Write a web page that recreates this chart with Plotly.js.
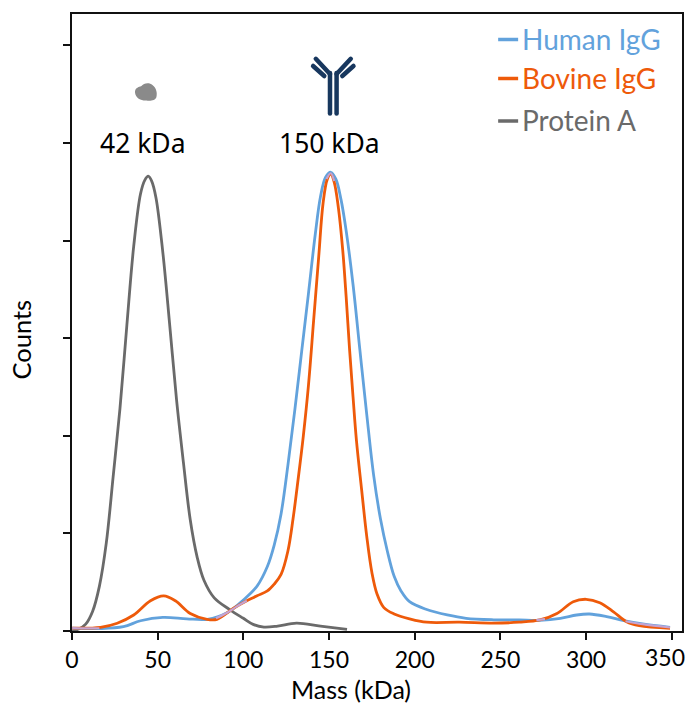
<!DOCTYPE html>
<html><head><meta charset="utf-8">
<script src="https://cdn.plot.ly/plotly-3.0.1.min.js"></script>
<style>html,body{margin:0;padding:0;background:#fff}</style></head>
<body><div id="chart" style="width:687px;height:704px"></div>
<script>
const seriesNames=["Human IgG","Bovine IgG","Protein A"];
const seriesColors=["#62a2dc","#ee5a0a","#6a6a6a"];
const humanX=[0.1,16,30,40,53,67,79,90.5,100,108,114,118,122,126,130,134,138,142,145,148,151,154,157,160,164,168,172,176,180,184,188,192,197,207,219,230,246,261,273,285,294.5,302,312,322,333,349];
const humanY=[0.03,0.025,0.044,0.105,0.14,0.125,0.12,0.187,0.318,0.46,0.66,0.88,1.2,1.7,2.26,2.86,3.46,4.07,4.45,4.65,4.7,4.63,4.42,4.1,3.55,2.88,2.22,1.6,1.15,0.82,0.56,0.41,0.3,0.22,0.164,0.13,0.115,0.113,0.11,0.13,0.164,0.174,0.147,0.106,0.072,0.038];
const bovineX=[0.1,16.6,26.4,36,45.8,53.5,60.3,69,78.8,84.6,94.3,102,108,114,118,122,126,129,132,135,138,141,144,146.5,149,151,153,155.5,158,160,162,164,166,169,172,175,178,182,188,197,207,226,246,261,273,283,292.5,300,308,316,323.6,331,349];
const bovineY=[0.03,0.038,0.08,0.164,0.31,0.36,0.31,0.18,0.12,0.12,0.233,0.31,0.36,0.41,0.48,0.58,0.82,1.15,1.56,2,2.52,3.18,3.84,4.38,4.63,4.68,4.6,4.33,3.9,3.42,2.88,2.4,1.95,1.45,0.97,0.6,0.38,0.24,0.175,0.125,0.09,0.09,0.08,0.09,0.113,0.18,0.3,0.325,0.29,0.197,0.095,0.054,0.027];
const proteinX=[0,4,8,12,16,20,24,28,32,36,40,42.5,44.5,46.5,49,53,57,61,65,69,73,77,83,92,100,106,112,120,131,145,160.5];
const proteinY=[0,0.02,0.07,0.2,0.46,0.9,1.58,2.28,3.13,3.94,4.48,4.62,4.66,4.61,4.44,3.88,3.14,2.37,1.73,1.14,0.76,0.52,0.34,0.22,0.13,0.065,0.04,0.05,0.08,0.05,0.017];
const overlapX=[0.1,8,16,null,84,90.5,96,102,null,148.5,151,153,null,271,276,null,323,333,349];
const overlapY=[0.03,0.028,0.028,null,0.13,0.187,0.25,0.31,null,4.63,4.69,4.61,null,0.112,0.122,null,0.1,0.07,0.036];
const xTicks=[0,50,100,150,200,250,300,350];
const xTickText=["0","50","100","150","200","250","300",""];
const yTicks=[0,1,2,3,4,5,6];
const W=687,H=704,L=71.5,R=682,T=14,B=631;
const fx=p=>(p-L)/(R-L), fy=p=>(B-p)/(B-T);
const line=(x,y,c,w)=>({type:'scatter',mode:'lines',x,y,showlegend:false,hoverinfo:'skip',connectgaps:false,line:{color:c,width:w||2.8,shape:'spline',smoothing:1}});
const traces=[line(proteinX,proteinY,seriesColors[2]),line(humanX,humanY,seriesColors[0]),line(bovineX,bovineY,seriesColors[1]),line(overlapX,overlapY,"#c4a3d2",2.2)];
const T1="Lato, sans-serif", T2="'Noto Sans', sans-serif";
const note=(text,px,py,size,color,font,anchor,angle)=>({text,xref:'paper',yref:'paper',x:fx(px),y:fy(py),xanchor:anchor||'center',yanchor:'middle',showarrow:false,textangle:angle||0,font:{family:font,size,color}});
const seg=(x0,y0,x1,y1,color,width)=>({type:'line',xref:'paper',yref:'paper',x0:fx(x0),y0:fy(y0),x1:fx(x1),y1:fy(y1),line:{color,width}});
const navy="#17375e";
const annotations=[
 note("42 kDa",143,143,26.5,"#000",T2),
 note("150 kDa",329,143,26.5,"#000",T2),
 note("Mass (kDa)",351,689,25,"#000",T1),
 note("Counts",20,340,25.5,"#000",T1,'center',-90),
 note("350",665,657,23,"#000",T1),
 note(seriesNames[0],520,39,28,seriesColors[0],T1,'left'),
 note(seriesNames[1],520,77.5,28,seriesColors[1],T1,'left'),
 note(seriesNames[2],520,119.5,28,seriesColors[2],T1,'left')
];
const blobPts="M134.5,92 C134.5,88 138,87 141,86 C143,83 149,82 152,85 C156,88 157,93 156,97 C155,101 149,101 146,100.5 C142,101 135,99 134.5,92 Z";
const blob=blobPts.replace(/(-?[\d.]+),(-?[\d.]+)/g,(m,a,b)=>fx(+a).toFixed(5)+','+fy(+b).toFixed(5));
const shapes=[
 seg(498,39.5,518,39.5,seriesColors[0],3.5),
 seg(498,78.5,518,78.5,seriesColors[1],3.5),
 seg(498,121,518,121,seriesColors[2],3.5),
 {type:'path',xref:'paper',yref:'paper',path:blob,fillcolor:'#8a8a8a',line:{width:0}},
 seg(329.7,73,329.7,113.5,navy,4.5),
 seg(336.3,73,336.3,113.5,navy,4.5),
 seg(315.5,58.8,329.7,74,navy,4.5),
 seg(350.5,58.8,336.3,74,navy,4.5),
 seg(312.8,66,324,76,navy,4.5),
 seg(353.2,66,342,76,navy,4.5)
];
const axis={showgrid:false,zeroline:false,showline:true,mirror:true,linecolor:'#111',linewidth:2,ticks:'outside',ticklen:7,tickwidth:2,tickcolor:'#111'};
Plotly.newPlot('chart',traces,{
 width:W,height:H,paper_bgcolor:'#fff',plot_bgcolor:'#fff',showlegend:false,
 margin:{l:L,r:W-R,t:T,b:H-B},
 xaxis:Object.assign({},axis,{range:[0,(R-L)/1.715],tickvals:xTicks,ticktext:xTickText,tickfont:{family:T1,size:23,color:'#000'}}),
 yaxis:Object.assign({},axis,{range:[0,(B-T)/97.6],tickvals:yTicks,showticklabels:false}),
 annotations,shapes
},{displayModeBar:false,staticPlot:true}).then(()=>{
 document.querySelectorAll('.shapelayer path').forEach(p=>{if(p.style.strokeWidth==='4.5px')p.style.strokeLinecap='round';});
});
</script></body></html>
